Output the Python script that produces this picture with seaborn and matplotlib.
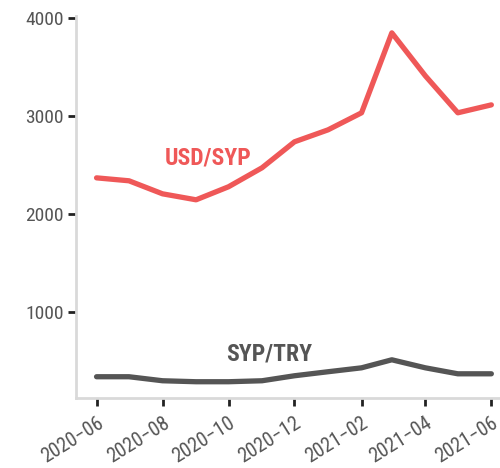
import pandas as pd
import matplotlib
matplotlib.use("Agg")
import matplotlib.pyplot as plt
import matplotlib.dates as mdates
import seaborn as sns

months = pd.date_range("2020-06-01", "2021-06-01", freq="MS")
usd_syp = [2367, 2337, 2204, 2143, 2276, 2470, 2735, 2857, 3031, 3847, 3408, 3031, 3112]
syp_try = [337, 337, 296, 286, 286, 296, 347, 388, 428, 510, 428, 367, 367]

df = pd.DataFrame({"month": months, "USD/SYP": usd_syp, "SYP/TRY": syp_try})

sns.set_style("white")
plt.rcParams["font.family"] = ["Roboto Condensed", "Liberation Sans", "DejaVu Sans"]

red = "#EF5858"
grey = "#555555"

fig = plt.figure(figsize=(5, 4.68), dpi=100)
ax = fig.add_axes([0.152, 0.15, 0.848, 0.816])

sns.lineplot(data=df, x="month", y="USD/SYP", color=red, linewidth=3.8, ax=ax)
sns.lineplot(data=df, x="month", y="SYP/TRY", color=grey, linewidth=3.8, ax=ax)

ax.text(pd.Timestamp("2020-09-12"), 2571, "USD/SYP", color=red, fontsize=17,
        fontweight="bold", ha="center", va="center")
ax.text(pd.Timestamp("2020-11-08"), 571, "SYP/TRY", color=grey, fontsize=17,
        fontweight="bold", ha="center", va="center")

ax.set_ylim(122, 4020)
ax.set_yticks([1000, 2000, 3000, 4000])
ax.set_xlim(pd.Timestamp("2020-05-13"), pd.Timestamp("2021-06-09"))
ax.xaxis.set_major_locator(mdates.MonthLocator(bymonth=[2, 4, 6, 8, 10, 12]))
ax.xaxis.set_major_formatter(mdates.DateFormatter("%Y\u2212%m"))

ax.set_xlabel("")
ax.set_ylabel("")
sns.despine(ax=ax)
for s in ["left", "bottom"]:
    ax.spines[s].set_color("#d9d9d9")
    ax.spines[s].set_linewidth(2)

ax.tick_params(axis="both", which="major", direction="out", length=6, width=2,
               color="#222222", labelcolor="#555555", labelsize=14, pad=3,
               left=True, bottom=True)
ax.tick_params(axis="x", labelsize=14.5, pad=5)
plt.setp(ax.get_xticklabels(), rotation=32, ha="right", rotation_mode="anchor")

fig.savefig("out.png", dpi=100)
